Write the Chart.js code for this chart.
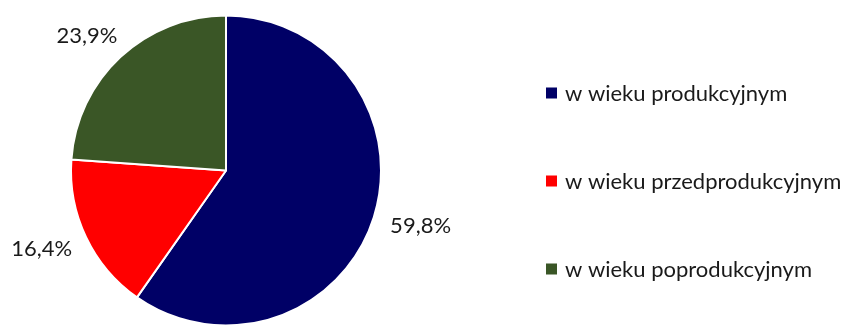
<!DOCTYPE html>
<html>
<head>
<meta charset="utf-8">
<script src="https://cdn.jsdelivr.net/npm/chart.js@4"></script>
<style>
    html, body { margin: 0; padding: 0; background: #fff; }
    #wrap { width: 845px; height: 327px; position: relative; }
</style>
</head>
<body>
<div id="wrap"><canvas id="pie"></canvas></div>
<script>
// chart data
const categories = ['w wieku produkcyjnym', 'w wieku przedprodukcyjnym', 'w wieku poprodukcyjnym'];
const shares = [59.8, 16.4, 23.9];
const sliceColors = ['#000066', '#FF0000', '#3A5626'];

const fontFamily = 'Lato, "Open Sans", sans-serif';

// percent labels outside the slices + legend on the right
const outsideLabels = {
    id: 'outsideLabels',
    afterDraw(chart) {
        const ctx = chart.ctx;
        const meta = chart.getDatasetMeta(0);
        ctx.save();
        ctx.fillStyle = '#1a1a1a';
        ctx.font = '22px ' + fontFamily;
        ctx.textAlign = 'center';
        ctx.textBaseline = 'middle';
        meta.data.forEach((arc, i) => {
            const { x, y, startAngle, endAngle, outerRadius } = arc.getProps(['x', 'y', 'startAngle', 'endAngle', 'outerRadius'], true);
            const mid = (startAngle + endAngle) / 2;
            const label = shares[i].toFixed(1).replace('.', ',') + '%';
            const w = ctx.measureText(label).width, h = 20;
            // anchor just outside the rim, then push the box away from the pie
            const ax = x + Math.cos(mid) * outerRadius * 1.12;
            const ay = y + Math.sin(mid) * outerRadius * 1.12;
            ctx.fillText(label, ax + Math.cos(mid) * w / 2, ay + Math.sin(mid) * h / 2);
        });

        // legend
        const lx = 546, ly = 93, gap = 88;
        ctx.textAlign = 'left';
        categories.forEach((name, i) => {
            const cy = ly + i * gap;
            ctx.fillStyle = sliceColors[i];
            ctx.fillRect(lx, cy - 5.5, 11, 11);
            ctx.fillStyle = '#1a1a1a';
            ctx.fillText(name, lx + 19, cy + 1);
        });
        ctx.restore();
    }
};

new Chart(document.getElementById('pie'), {
    type: 'pie',
    data: {
        labels: categories,
        datasets: [{
            data: shares,
            backgroundColor: sliceColors,
            borderColor: '#ffffff',
            borderWidth: 2,
        }]
    },
    options: {
        responsive: true,
        maintainAspectRatio: false,
        animation: false,
        layout: { padding: { left: 70, right: 463, top: 14, bottom: 0 } },
        plugins: {
            legend: { display: false },
            tooltip: { enabled: false },
        },
    },
    plugins: [outsideLabels],
});
</script>
</body>
</html>
